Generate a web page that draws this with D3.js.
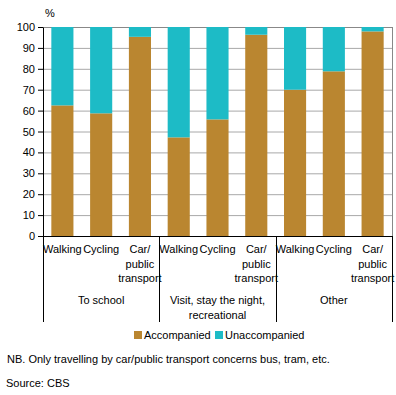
<!DOCTYPE html>
<html>
<head>
<meta charset="utf-8">
<script src="https://cdn.jsdelivr.net/npm/d3@7"></script>
<style>
  body { margin: 0; background: #fff; }
  svg text { font-family: Arial, "Liberation Sans", sans-serif; font-size: 11px; fill: #000; }
</style>
</head>
<body>
<div id="chart"></div>
<script>
// data
const groups = ["To school", "Visit, stay the night, recreational", "Other"];
const modes = ["Walking", "Cycling", "Car/ public transport"];
const accompanied   = [62.5, 58.7, 95.3, 47.2, 55.8, 96.3, 70.0, 78.8, 97.9];
const unaccompanied = [37.5, 41.3, 4.7, 52.8, 44.2, 3.7, 30.0, 21.2, 2.1];
const yTicks = [0, 10, 20, 30, 40, 50, 60, 70, 80, 90, 100];
const seriesNames = ["Accompanied", "Unaccompanied"];
const colors = ["#ba8630", "#1dbbc6"];

const width = 396, height = 395;
const margin = {top: 27, right: 4, bottom: 159, left: 43};
const plotW = width - margin.left - margin.right,
      plotH = height - margin.top - margin.bottom;

const svg = d3.select("#chart").append("svg")
    .attr("width", width)
    .attr("height", height);

const g = svg.append("g")
    .attr("transform", "translate(" + margin.left + "," + margin.top + ")");

// one row per bar
const rows = [];
groups.forEach(function(grp, gi) {
    modes.forEach(function(m, mi) {
        const i = gi * modes.length + mi;
        rows.push({key: i, group: grp, mode: m, acc: accompanied[i], unacc: unaccompanied[i]});
    });
});

const x = d3.scaleBand()
    .domain(rows.map(d => d.key))
    .range([0, plotW])
    .paddingInner(0.43)
    .paddingOuter(0.215);

const y = d3.scaleLinear()
    .domain([0, 100])
    .range([plotH, 0]);

// grid lines
g.append("g")
  .selectAll("line")
  .data(yTicks.filter(t => t > 0))
  .enter().append("line")
    .attr("x1", 0)
    .attr("x2", plotW)
    .attr("y1", d => y(d) + 0.5)
    .attr("y2", d => y(d) + 0.5)
    .attr("stroke", d => d === 100 ? "#888" : "#a8a8a8")
    .attr("stroke-width", 1);

// right border
g.append("line")
    .attr("x1", plotW + 0.5).attr("x2", plotW + 0.5)
    .attr("y1", y(100)).attr("y2", plotH)
    .attr("stroke", "#888");

// stacked bars
const stack = d3.stack().keys(["acc", "unacc"]);
const series = stack(rows);

g.selectAll("g.series")
  .data(series)
  .enter().append("g")
    .attr("class", "series")
    .attr("fill", (d, i) => colors[i])
  .selectAll("rect")
  .data(d => d)
  .enter().append("rect")
    .attr("x", d => x(d.data.key))
    .attr("width", x.bandwidth())
    .attr("y", d => y(d[1]))
    .attr("height", d => y(d[0]) - y(d[1]));

// y axis
const yAxis = g.append("g")
    .call(d3.axisLeft(y).tickValues(yTicks).tickSize(5).tickPadding(3).tickSizeOuter(0));
yAxis.select(".domain").attr("stroke", "#000");
yAxis.selectAll("text").style("font-size", "11px").attr("fill", "#000");

// x axis baseline
g.append("line")
    .attr("x1", 0).attr("x2", plotW)
    .attr("y1", plotH + 0.5).attr("y2", plotH + 0.5)
    .attr("stroke", "#000");

// group separators
const step = x.step();
const sepX = d3.range(groups.length + 1).map(i => i === groups.length ? plotW : x(i * modes.length) - x.paddingOuter() * step);
g.selectAll("line.sep")
  .data(sepX)
  .enter().append("line")
    .attr("class", "sep")
    .attr("x1", d => Math.round(d) + 0.5)
    .attr("x2", d => Math.round(d) + 0.5)
    .attr("y1", plotH)
    .attr("y2", plotH + 86)
    .attr("stroke", "#000");

// category labels
const catLabels = {"Walking": ["Walking"], "Cycling": ["Cycling"], "Car/ public transport": ["Car/", "public", "transport"]};
g.selectAll("text.cat")
  .data(rows)
  .enter().append("text")
    .attr("class", "cat")
    .attr("text-anchor", "middle")
    .each(function(d) {
        const t = d3.select(this);
        catLabels[d.mode].forEach(function(line, li) {
            t.append("tspan")
              .attr("x", x(d.key) + x.bandwidth() / 2)
              .attr("y", plotH + 17 + li * 14.5)
              .text(line);
        });
    });

// group labels
const groupLines = {"To school": ["To school"], "Visit, stay the night, recreational": ["Visit, stay the night,", "recreational"], "Other": ["Other"]};
g.selectAll("text.grp")
  .data(groups)
  .enter().append("text")
    .attr("class", "grp")
    .attr("text-anchor", "middle")
    .each(function(d, i) {
        const t = d3.select(this);
        const cx = (sepX[i] + sepX[i + 1]) / 2;
        groupLines[d].forEach(function(line, li) {
            t.append("tspan")
              .attr("x", cx)
              .attr("y", plotH + 68 + li * 14.5)
              .text(line);
        });
    });

// unit label
svg.append("text")
    .attr("x", 45)
    .attr("y", 17)
    .text("%");

// legend
const legendX = [134, 215];
const legend = svg.selectAll("g.legend")
  .data(seriesNames)
  .enter().append("g")
    .attr("class", "legend")
    .attr("transform", (d, i) => "translate(" + legendX[i] + ",331)");
legend.append("rect")
    .attr("width", 8).attr("height", 8)
    .attr("fill", (d, i) => colors[i]);
legend.append("text")
    .attr("x", 10)
    .attr("y", 8)
    .text(d => d);

// notes
svg.append("text")
    .attr("x", 7)
    .attr("y", 363)
    .text("NB. Only travelling by car/public transport concerns bus, tram, etc.");
svg.append("text")
    .attr("x", 6)
    .attr("y", 387)
    .text("Source: CBS");
</script>
</body>
</html>
